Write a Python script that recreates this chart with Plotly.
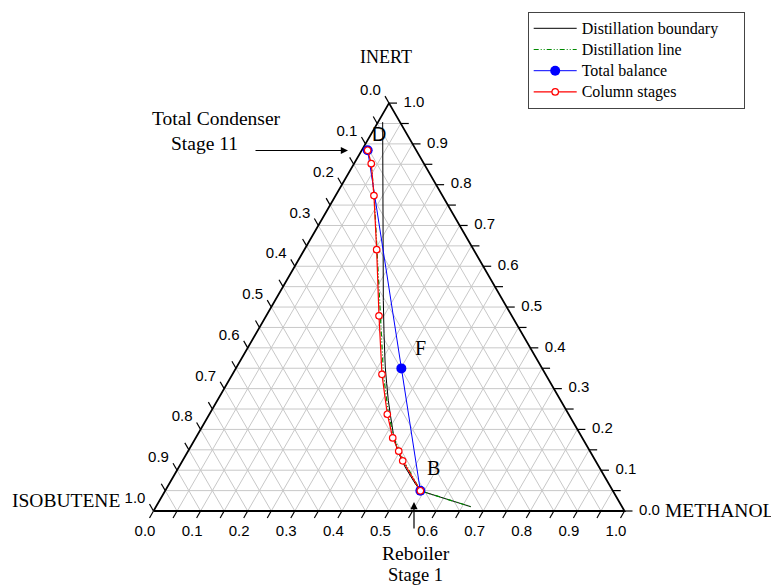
import math
import plotly.graph_objects as go

# The page body adds an 8px margin around the figure, so the figure is made
# 8px smaller and every screen position below is converted with SHIFT.
SCREEN_W, SCREEN_H = 779, 588
SHIFT = 8
W, H = SCREEN_W - SHIFT, SCREEN_H - SHIFT

# ---------------- data (mole fractions) ----------------
# Distillation boundary
boundary_inert = [0.9535, 0.7604, 0.5159, 0.4345, 0.3528, 0.3122, 0.2714, 0.2306,
                  0.1900, 0.1491, 0.1083, 0.0677, 0.0496, 0.0105]
boundary_methanol = [0.0098, 0.1064, 0.2300, 0.2722, 0.3157, 0.3390, 0.3628, 0.3883,
                     0.4141, 0.4431, 0.4798, 0.5214, 0.5418, 0.6685]

# Distillation line
distline_inert = [0.8844, 0.8460, 0.7604, 0.6381, 0.4792, 0.3350, 0.2372, 0.1797,
                  0.1467, 0.1222, 0.0496, 0.0105]
distline_methanol = [0.0125, 0.0398, 0.0889, 0.1554, 0.2413, 0.3208, 0.3803, 0.4207,
                     0.4490, 0.4708, 0.5418, 0.6685]

# Total balance: D (distillate), F (feed), B (bottoms)
balance_inert = [0.8844, 0.3496, 0.0496]
balance_methanol = [0.0125, 0.3514, 0.5418]

# Column stages 1 (reboiler) .. 11 (total condenser)
stages_inert = [0.0496, 0.1230, 0.1467, 0.1792, 0.2372, 0.3350, 0.4785, 0.6406,
                0.7733, 0.8516, 0.8844]
stages_methanol = [0.5418, 0.4676, 0.4473, 0.4183, 0.3778, 0.3176, 0.2395, 0.1535,
                   0.0814, 0.0365, 0.0125]

# ternary axes: grid / ticks every 0.05, labels every 0.1
grid_vals = [0.00, 0.05, 0.10, 0.15, 0.20, 0.25, 0.30, 0.35, 0.40, 0.45, 0.50,
             0.55, 0.60, 0.65, 0.70, 0.75, 0.80, 0.85, 0.90, 0.95, 1.00]
label_vals = [0.0, 0.1, 0.2, 0.3, 0.4, 0.5, 0.6, 0.7, 0.8, 0.9, 1.0]
label_text = ["0.0", "0.1", "0.2", "0.3", "0.4", "0.5", "0.6", "0.7", "0.8", "0.9", "1.0"]

# ---------------- ternary -> cartesian projection ----------------
SQ = math.sqrt(3) / 2
SCALE = 471.0                  # pixels per unit side of the triangle
ORIGIN = (153.5, 511.0)        # screen position of the ISOBUTENE (bottom-left) corner
PX = 1.0 / SCALE               # one pixel in data units


def to_xy(inert, methanol):
    """Composition (inert, methanol; isobutene = rest) -> cartesian x, y."""
    x = [m + i / 2 for i, m in zip(inert, methanol)]
    y = [i * SQ for i in inert]
    return x, y


fig = go.Figure()

# grid lines
gx, gy = [], []
for v in grid_vals[1:-1]:
    for (i0, m0), (i1, m1) in [((v, 0.0), (v, 1 - v)),        # constant INERT
                               ((0.0, v), (1 - v, v)),        # constant METHANOL
                               ((0.0, 1 - v), (1 - v, 0.0))]: # constant ISOBUTENE
        xs, ys = to_xy([i0, i1], [m0, m1])
        gx += xs + [None]
        gy += ys + [None]
fig.add_trace(go.Scatter(x=gx, y=gy, mode="lines", showlegend=False, hoverinfo="skip",
                         line=dict(color="#c8c8c8", width=1)))

# triangle frame
ex, ey = to_xy([0.0, 0.0, 1.0, 0.0], [0.0, 1.0, 0.0, 0.0])
fig.add_trace(go.Scatter(x=ex, y=ey, mode="lines", showlegend=False, hoverinfo="skip",
                         line=dict(color="black", width=1.8)))

# tick marks (extensions of the grid lines)
L = 8 * PX
tx, ty = [], []
for v in grid_vals:
    (x,), (y,) = to_xy([v], [1 - v])          # right edge: INERT = v
    tx += [x, x + L, None]; ty += [y, y, None]
    (x,), (y,) = to_xy([1 - v], [0.0])        # left edge: ISOBUTENE = v
    tx += [x, x - 0.5 * L, None]; ty += [y, y + SQ * L, None]
    (x,), (y,) = to_xy([0.0], [v])            # bottom edge: METHANOL = v
    tx += [x, x - 0.5 * L, None]; ty += [y, y - SQ * L, None]
fig.add_trace(go.Scatter(x=tx, y=ty, mode="lines", showlegend=False, hoverinfo="skip",
                         line=dict(color="black", width=1.2)))

# tick labels
lx, ly, lt = [], [], []
for v, t in zip(label_vals, label_text):
    (x,), (y,) = to_xy([v], [1 - v])          # right: INERT
    lx.append(x + 25 * PX); ly.append(y); lt.append(t)
    (x,), (y,) = to_xy([1 - v], [0.0])        # left: ISOBUTENE
    lx.append(x - 18.5 * PX); ly.append(y + 11.7 * PX); lt.append(t)
    (x,), (y,) = to_xy([0.0], [v])            # bottom: METHANOL
    lx.append(x - 8.5 * PX); ly.append(y - 21.5 * PX); lt.append(t)
fig.add_trace(go.Scatter(x=lx, y=ly, text=lt, mode="text", textposition="middle center",
                         showlegend=False, hoverinfo="skip",
                         textfont=dict(family="Liberation Sans", size=15, color="black")))

# ---------------- data series ----------------
LEG = '<span style="font-size:16px">{}</span>'

bx, by = to_xy(boundary_inert, boundary_methanol)
fig.add_trace(go.Scatter(x=bx, y=by, mode="lines",
                         name=LEG.format("Distillation boundary" + "\u00a0" * 5),
                         line=dict(color="black", width=1)))

dx, dy = to_xy(distline_inert, distline_methanol)
fig.add_trace(go.Scatter(x=dx, y=dy, mode="lines",
                         name=LEG.format("Distillation line"),
                         line=dict(color="#008a00", width=1.2,
                                   dash="5px,2px,1px,2px,1px,2px")))

tbx, tby = to_xy(balance_inert, balance_methanol)
fig.add_trace(go.Scatter(x=tbx, y=tby, mode="lines+markers",
                         name=LEG.format("Total balance"),
                         line=dict(color="#0000ff", width=1),
                         marker=dict(color="#0000ff", size=10, symbol="circle")))

sx, sy = to_xy(stages_inert, stages_methanol)
fig.add_trace(go.Scatter(x=sx, y=sy, mode="lines+markers",
                         name=LEG.format("Column stages"),
                         line=dict(color="#ff0000", width=1.2),
                         marker=dict(color="white", size=6.5, symbol="circle",
                                     line=dict(color="#ff0000", width=1.2))))

# ---------------- layout ----------------
ox, oy = ORIGIN[0] - SHIFT, ORIGIN[1] - SHIFT    # corner in figure pixels
x_min = -ox / SCALE
y_min = -(H - oy) / SCALE
fig.update_layout(
    width=W, height=H,
    margin=dict(l=0, r=0, t=0, b=0),
    paper_bgcolor="white", plot_bgcolor="white",
    xaxis=dict(visible=False, range=[x_min, x_min + W / SCALE], fixedrange=True),
    yaxis=dict(visible=False, range=[y_min, y_min + H / SCALE], fixedrange=True),
    showlegend=True,
    legend=dict(
        x=(527.7 - SHIFT) / W, y=1 - (11.7 - SHIFT) / H, xanchor="left", yanchor="top",
        bgcolor="white", bordercolor="#444444", borderwidth=1,
        font=dict(family="Liberation Serif", size=14, color="black"),
        itemwidth=43,
    ),
)

serif = "Liberation Serif"
sans = "Liberation Sans"


def txt(text, x, y, size=19.5, family=serif, xanchor="center"):
    """Text centred at screen position (x, y)."""
    return dict(text=text, x=(x - SHIFT) / W, y=1 - (y - SHIFT) / H,
                xref="paper", yref="paper",
                showarrow=False, xanchor=xanchor, yanchor="middle",
                font=dict(family=family, size=size, color="black"))


def arrow(x_tip, y_tip, x_tail, y_tail):
    return dict(text="", x=(x_tip - SHIFT) / W, y=1 - (y_tip - SHIFT) / H,
                xref="paper", yref="paper", showarrow=True,
                ax=x_tail - x_tip, ay=y_tail - y_tip, axref="pixel", ayref="pixel",
                arrowhead=2, arrowsize=1.2, arrowwidth=1.2, arrowcolor="black")


annotations = [
    txt("INERT", 386, 57, 18),
    txt("ISOBUTENE", 122, 500, xanchor="right"),
    txt("METHANOL", 663, 510, xanchor="left"),
    txt("Total Condenser", 216.3, 118.5),
    txt("Stage 11", 204.5, 143.5),
    txt("Reboiler", 416, 553),
    txt("Stage 1", 415.3, 575, 18.5),
    txt("D", 379.3, 134.5, 20, sans),
    txt("F", 420, 347.7, 20),
    txt("B", 433.8, 467.7, 20),
    arrow(348, 150.5, 254, 150.5),
    arrow(414, 502, 414, 530),
]
fig.update_layout(annotations=annotations)

fig.write_html("out.html")
